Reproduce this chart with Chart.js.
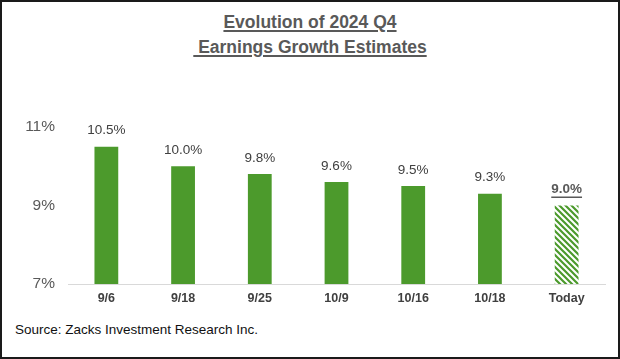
<!DOCTYPE html>
<html>
<head>
<meta charset="utf-8">
<script src="https://cdn.jsdelivr.net/npm/chart.js@4"></script>
<style>
  html,body{margin:0;padding:0;background:#fff;}
  #wrap{position:relative;width:620px;height:359px;box-sizing:border-box;border:2px solid #1a1a1a;overflow:hidden;font-family:"Liberation Sans",Arial,sans-serif;}
  #title{position:absolute;left:0;top:8px;width:616px;text-align:center;font-weight:bold;font-size:17.5px;line-height:25px;color:#595959;white-space:pre;}
  #title span{text-decoration:underline;text-decoration-thickness:1.5px;text-underline-offset:2px;}
  #source{position:absolute;left:13px;top:320px;font-size:13.5px;color:#111;}
  canvas{position:absolute;left:-2px;top:-2px;}
</style>
</head>
<body>
<div id="wrap">
  <div id="title"><span>Evolution of 2024 Q4</span>
<span> Earnings Growth Estimates</span></div>
  <div id="source">Source: Zacks Investment Research Inc.</div>
  <canvas id="c" width="620" height="359"></canvas>
</div>
<script>
const categories = ['9/6','9/18','9/25','10/9','10/16','10/18','Today'];
const growth = [10.5, 10.0, 9.8, 9.6, 9.5, 9.3, 9.0];
const yTicks = [7, 9, 11];

const GREEN = '#4c9a2c';

function makeHatch(){
  const p = document.createElement('canvas');
  p.width = 6; p.height = 6;
  const g = p.getContext('2d');
  g.fillStyle = '#fff'; g.fillRect(0,0,6,6);
  g.strokeStyle = GREEN; g.lineWidth = 2.2;
  g.beginPath();
  for (let k=-2;k<=2;k++){
    g.moveTo(k*6-1, -1); g.lineTo(k*6+7, 7);
  }
  g.stroke();
  return g.createPattern(p,'repeat');
}
const ctx = document.getElementById('c').getContext('2d');
const hatch = makeHatch();

const labelPlugin = {
  id:'labels',
  afterDatasetsDraw(chart){
    const c = chart.ctx;
    const meta = chart.getDatasetMeta(0);
    c.save();
    c.textAlign='center'; c.textBaseline='middle';
    meta.data.forEach((bar,i)=>{
      const txt = growth[i].toFixed(1)+'%';
      const last = i===growth.length-1;
      c.font = (last?'bold ':'')+'13.5px "Liberation Sans", Arial, sans-serif';
      c.fillStyle = last ? '#595959' : '#404040';
      const y = bar.y - 16;
      c.fillText(txt, bar.x, y);
      if (last){
        const w = c.measureText(txt).width;
        c.fillRect(bar.x - w/2, y+7, w, 1.5);
      }
    });
    c.restore();
  }
};

new Chart(ctx,{
  type:'bar',
  data:{
    labels:categories,
    datasets:[{
      data:growth,
      backgroundColor: growth.map((v,i)=> i===growth.length-1 ? hatch : GREEN),
      borderWidth:0,
      barPercentage:0.31,
      categoryPercentage:1
    }]
  },
  options:{
    responsive:false,
    animation:false,
    devicePixelRatio:1,
    layout:{padding:{top:127,right:15,bottom:46,left:0}},
    plugins:{legend:{display:false},tooltip:{enabled:false}},
    scales:{
      x:{
        grid:{display:false,drawTicks:false},
        border:{display:true,color:'#d9d9d9',width:1},
        ticks:{padding:7,color:'#404040',font:{family:'"Liberation Sans", Arial, sans-serif',size:12.5,weight:'bold'}}
      },
      y:{
        min:7,max:11,
        afterBuildTicks(s){ s.ticks = yTicks.map(v=>({value:v})); },
        afterFit(s){ s.width = 68; },
        grid:{display:false,drawTicks:false},
        border:{display:false},
        ticks:{padding:13,color:'#595959',font:{family:'"Liberation Sans", Arial, sans-serif',size:15.5},callback:v=>v+'%'}
      }
    }
  },
  plugins:[labelPlugin]
});
</script>
</body>
</html>
